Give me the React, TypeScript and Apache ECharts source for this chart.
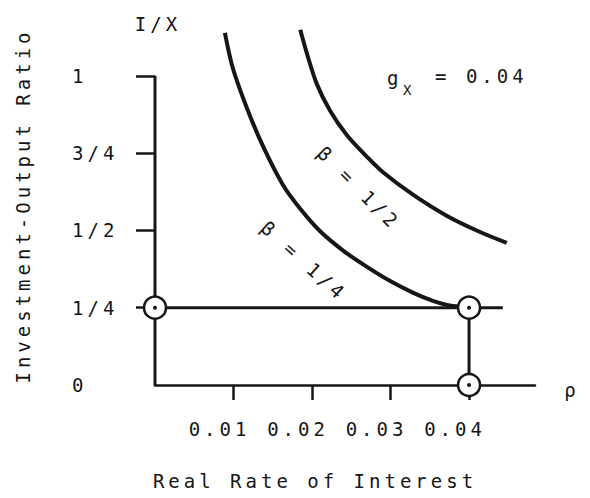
import React, { useEffect, useRef } from 'react';
import * as echarts from 'echarts';

// Axis ticks and labels
const rhoTicks = [0.01, 0.02, 0.03, 0.04];
const rhoTickLabels = ['0.01', '0.02', '0.03', '0.04'];
const ratioTicks = [0, 0.25, 0.5, 0.75, 1];
const ratioTickLabels = ['0', '1/4', '1/2', '3/4', '1'];

// Curve beta = 1/2
const betaHalfRho = [0.0185, 0.0194, 0.0206, 0.0223, 0.0245, 0.027, 0.029, 0.0329, 0.0372, 0.0414, 0.0448];
const betaHalfRatio = [1.149, 1.068, 0.974, 0.887, 0.806, 0.738, 0.689, 0.615, 0.547, 0.495, 0.46];

// Curve beta = 1/4
const betaQuarterRho = [0.0089, 0.0099, 0.0117, 0.0138, 0.0163, 0.0185, 0.021, 0.024, 0.027, 0.0299, 0.0329, 0.0354, 0.0372, 0.04];
const betaQuarterRatio = [1.139, 1.026, 0.896, 0.77, 0.647, 0.57, 0.498, 0.434, 0.382, 0.337, 0.298, 0.272, 0.259, 0.25];

// Reference lines
const horizontalRho = [0, 0.0443];
const horizontalRatio = [0.25, 0.25];
const verticalRho = [0.04, 0.04];
const verticalRatio = [0, 0.25];
const yAxisLineRho = [0, 0];
const yAxisLineRatio = [0, 1];

// Marked points
const pointRho = [0, 0.04, 0.04];
const pointRatio = [0.25, 0.25, 0];

const INK = '#161616';
const FONT = '"DejaVu Sans Mono", "Liberation Mono", monospace';

const zip = (a: number[], b: number[]) => a.map((v, i) => [v, b[i]]);

export default function App() {
  const ref = useRef<HTMLDivElement>(null);
  useEffect(() => {
    if (!ref.current) return;
    const chart = echarts.init(ref.current, null, { renderer: 'svg' });
    const lineStyle = (w: number) => ({ color: INK, width: w, opacity: 1 });
    chart.setOption({
      animation: false,
      backgroundColor: '#ffffff',
      grid: { left: 155, top: 14, width: 380, height: 371, containLabel: false },
      xAxis: {
        type: 'value',
        min: 0,
        max: 0.0484,
        splitLine: { show: false },
        axisLine: { show: true, lineStyle: { color: INK, width: 2.5 } },
        axisTick: { show: true, length: 15, lineStyle: { color: INK, width: 2.5 }, customValues: rhoTicks },
        axisLabel: {
          customValues: rhoTicks,
          formatter: (v: number) => {
            const i = rhoTicks.findIndex((t) => Math.abs(t - v) < 1e-9);
            return i >= 0 ? rhoTickLabels[i] : '';
          },
          margin: 34,
          padding: [0, 28, 0, 0],
          color: INK,
          fontFamily: FONT,
          fontSize: 19,
        },
      },
      yAxis: {
        type: 'value',
        min: 0,
        max: 1.2,
        splitLine: { show: false },
        axisLine: { show: false },
        axisTick: {
          show: true,
          length: 19,
          lineStyle: { color: INK, width: 2.5 },
          customValues: ratioTicks.filter((t) => t > 0),
        },
        axisLabel: {
          customValues: ratioTicks,
          formatter: (v: number) => {
            const i = ratioTicks.findIndex((t) => Math.abs(t - v) < 1e-9);
            return i >= 0 ? ratioTickLabels[i] : '';
          },
          align: 'left',
          margin: 83,
          color: INK,
          fontFamily: FONT,
          fontSize: 19,
        },
      },
      series: [
        { type: 'line', data: zip(yAxisLineRho, yAxisLineRatio), symbol: 'none', lineStyle: lineStyle(3), z: 2 },
        { type: 'line', data: zip(horizontalRho, horizontalRatio), symbol: 'none', lineStyle: lineStyle(3), z: 2 },
        { type: 'line', data: zip(verticalRho, verticalRatio), symbol: 'none', lineStyle: lineStyle(3), z: 2 },
        {
          type: 'line',
          data: zip(betaHalfRho, betaHalfRatio),
          symbol: 'none',
          smooth: 0.3,
          lineStyle: lineStyle(4),
          z: 2,
        },
        {
          type: 'line',
          data: zip(betaQuarterRho, betaQuarterRatio),
          symbol: 'none',
          smooth: 0.3,
          lineStyle: lineStyle(4),
          z: 2,
        },
        {
          type: 'scatter',
          data: zip(pointRho, pointRatio),
          symbol: 'circle',
          symbolSize: 22,
          itemStyle: { color: '#ffffff', borderColor: INK, borderWidth: 2.5, opacity: 1 },
          z: 5,
        },
        {
          type: 'scatter',
          data: zip(pointRho, pointRatio),
          symbol: 'circle',
          symbolSize: 4,
          itemStyle: { color: INK, opacity: 1 },
          z: 6,
        },
      ],
      graphic: [
        {
          type: 'text',
          x: 23,
          y: 206,
          rotation: Math.PI / 2,
          style: { text: 'Investment-Output Ratio', font: `19px ${FONT}`, fill: INK, align: 'center', verticalAlign: 'middle' },
        },
        {
          type: 'text',
          x: 158,
          y: 24,
          style: { text: 'I/X', font: `19px ${FONT}`, fill: INK, align: 'center', verticalAlign: 'middle' },
        },
        {
          type: 'text',
          x: 315,
          y: 481,
          style: { text: 'Real Rate of Interest', font: `19px ${FONT}`, fill: INK, align: 'center', verticalAlign: 'middle' },
        },
        {
          type: 'text',
          x: 572,
          y: 390,
          style: { text: 'ρ', font: `19px ${FONT}`, fill: INK, align: 'center', verticalAlign: 'middle' },
        },
        {
          type: 'text',
          x: 387,
          y: 78,
          style: { text: 'g', font: `19px ${FONT}`, fill: INK, align: 'left', verticalAlign: 'middle' },
        },
        {
          type: 'text',
          x: 403,
          y: 90,
          style: { text: 'X', font: `14px ${FONT}`, fill: INK, align: 'left', verticalAlign: 'middle' },
        },
        {
          type: 'text',
          x: 435,
          y: 76,
          style: { text: '= 0.04', font: `19px ${FONT}`, fill: INK, align: 'left', verticalAlign: 'middle' },
        },
        {
          type: 'text',
          x: 359,
          y: 188,
          rotation: (-45 * Math.PI) / 180,
          style: { text: 'β = 1/2', font: `19px ${FONT}`, fill: INK, align: 'center', verticalAlign: 'middle' },
        },
        {
          type: 'text',
          x: 304,
          y: 261,
          rotation: (-42 * Math.PI) / 180,
          style: { text: 'β = 1/4', font: `19px ${FONT}`, fill: INK, align: 'center', verticalAlign: 'middle' },
        },
      ],
    });
    return () => chart.dispose();
  }, []);
  return (
    <>
      <style>{`.typed-chart text { letter-spacing: 4px; }`}</style>
      <div
        ref={ref}
        className="typed-chart"
        style={{ position: 'fixed', left: 0, top: 0, width: 590, height: 498, background: '#fff' }}
      />
    </>
  );
}
